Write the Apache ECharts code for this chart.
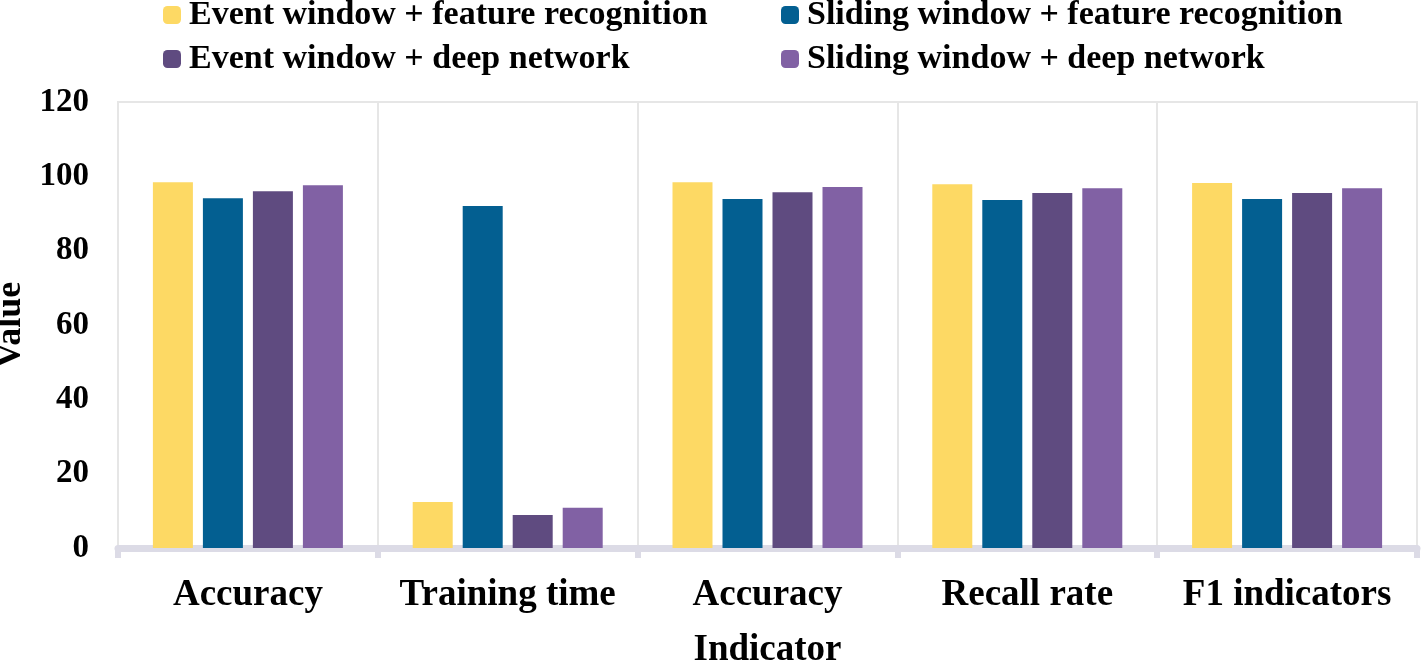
<!DOCTYPE html>
<html><head><meta charset="utf-8">
<script src="https://cdn.jsdelivr.net/npm/echarts@6/dist/echarts.min.js"></script>
<style>html,body{margin:0;padding:0;background:#fff}#c{width:1421px;height:661px}</style>
</head><body><div id="c"></div>
<script>
const categories = ['Accuracy', 'Training time', 'Accuracy', 'Recall rate', 'F1 indicators'];
const seriesNames = ['Event window + feature recognition', 'Sliding window + feature recognition', 'Event window + deep network', 'Sliding window + deep network'];
const eventFeature = [98.4, 12.4, 98.4, 97.9, 98.2];
const slidingFeature = [94.1, 92.0, 93.9, 93.6, 93.9];
const eventDeep = [96.0, 8.9, 95.7, 95.5, 95.5];
const slidingDeep = [97.6, 10.8, 97.1, 96.8, 96.8];
const colors = ['#fdd964', '#035f91', '#5f4b80', '#8161a4'];
const yTicks = {min: 0, max: 120, interval: 20};

const font = 'Liberation Serif, Times New Roman, serif';
const dataArr = [eventFeature, slidingFeature, eventDeep, slidingDeep];
const chart = echarts.init(document.getElementById('c'));
const legendText = {fontFamily: font, fontWeight: 'bold', fontSize: 34, lineHeight: 34, color: '#000', padding: [0, 0, 0, 3]};
const legendBase = {top: -2, orient: 'vertical', padding: 0, itemGap: 10, itemWidth: 18, itemHeight: 18, textStyle: legendText};
chart.setOption({
  animation: false,
  grid: {left: 118, right: 4, top: 102, bottom: 113, containLabel: false, outerBoundsMode: 'none',
         show: true, borderColor: '#e6e6e6', borderWidth: 2},
  legend: [
    Object.assign({left: 163, data: [seriesNames[0], seriesNames[2]]}, legendBase),
    Object.assign({left: 781, data: [seriesNames[1], seriesNames[3]]}, legendBase)
  ],
  xAxis: {
    type: 'category', data: categories,
    name: 'Indicator', nameLocation: 'middle', nameGap: 84,
    nameTextStyle: {fontFamily: font, fontWeight: 'bold', fontSize: 37, color: '#000'},
    axisLine: {show: true, lineStyle: {color: '#dcdbe6', width: 7}},
    axisTick: {show: true, interval: 0, length: 10, lineStyle: {color: '#dcdbe6', width: 6}},
    axisLabel: {interval: 0, fontFamily: font, fontWeight: 'bold', fontSize: 37, color: '#000', margin: 29},
    splitLine: {show: true, interval: 0, lineStyle: {color: '#e6e6e6', width: 2}}
  },
  yAxis: {
    type: 'value', min: yTicks.min, max: yTicks.max, interval: yTicks.interval,
    name: 'Value', nameLocation: 'middle', nameGap: 86,
    nameTextStyle: {fontFamily: font, fontWeight: 'bold', fontSize: 36, color: '#000'},
    axisLine: {show: false}, axisTick: {show: false},
    axisLabel: {fontFamily: font, fontWeight: 'bold', fontSize: 33, color: '#000', margin: 29},
    splitLine: {show: false}
  },
  series: seriesNames.map((n, i) => ({
    name: n, type: 'bar', data: dataArr[i], barWidth: 40, barGap: '25%',
    itemStyle: {color: colors[i]}
  }))
});
</script></body></html>
